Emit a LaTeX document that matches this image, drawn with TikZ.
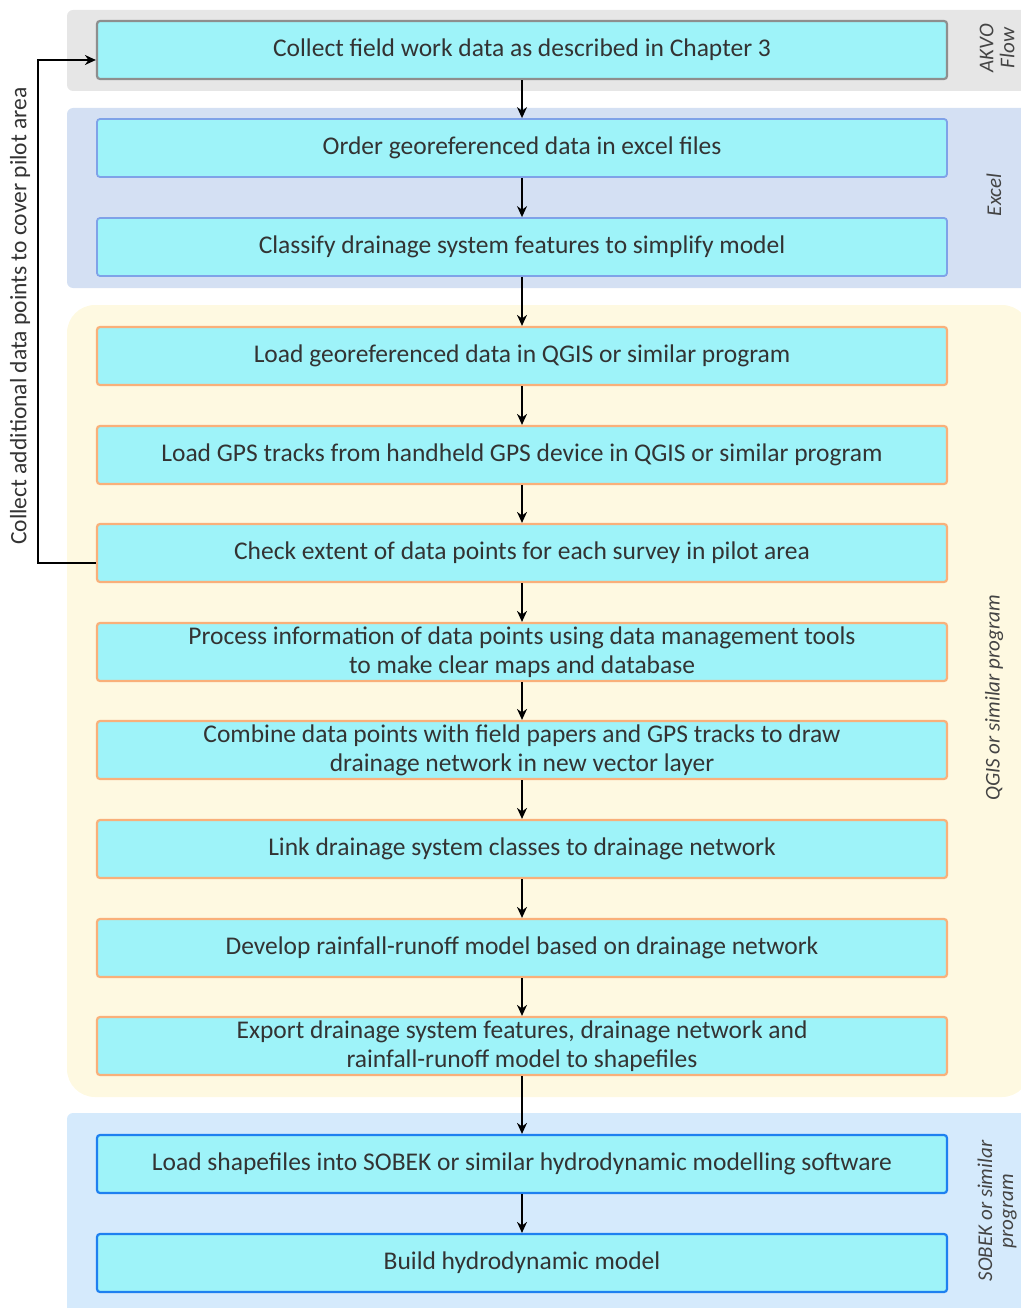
\documentclass[tikz,border=0pt]{standalone}
\usepackage{fontspec}
\setmainfont{Carlito}
\usetikzlibrary{arrows.meta,positioning}
\definecolor{boxfill}{HTML}{9EF3F9}
\definecolor{txt}{HTML}{333333}
\definecolor{bgakvo}{HTML}{E6E6E6}
\definecolor{bgexcel}{HTML}{D4E0F3}
\definecolor{bgqgis}{HTML}{FEF9E1}
\definecolor{bgsobek}{HTML}{D5EAFC}
\definecolor{bdgray}{HTML}{8E8E8E}
\definecolor{bdexcel}{HTML}{7FA2E8}
\definecolor{bdorange}{HTML}{F9B07A}
\definecolor{bdblue}{HTML}{1E80F0}
\definecolor{sidetxt}{HTML}{444444}
\begin{document}
\begin{tikzpicture}[x=1pt,y=-1pt,
  stepbox/.style={draw, fill=boxfill, minimum width=850pt, minimum height=58pt, rounded corners=3pt,
    line width=2.2pt, text=txt, font=\fontsize{25.5}{29}\selectfont, align=center, inner sep=0pt},
  gbox/.style={stepbox, draw=bdgray},
  ebox/.style={stepbox, draw=bdexcel, line width=1.8pt},
  obox/.style={stepbox, draw=bdorange},
  bbox/.style={stepbox, draw=bdblue},
  flow/.style={-{Stealth[length=11pt,width=10pt]}, line width=1.4pt, black},
  side/.style={rotate=90, font=\itshape\fontsize{21}{21}\selectfont, text=sidetxt, align=center}
]
\useasboundingbox (0,0) rectangle (1020,1308);
% bands
\fill[bgakvo, rounded corners=6pt] (67,10) rectangle (1030,91);
\fill[bgexcel, rounded corners=6pt] (67,108) rectangle (1030,288);
\fill[bgqgis, rounded corners=28pt] (67,305) rectangle (1030,1097);
\fill[bgsobek, rounded corners=6pt] (67,1113) rectangle (1030,1320);
% boxes
\node[gbox] (b1) at (522,50) {Collect field work data as described in Chapter 3};
\node[ebox] (b2) at (522,148) {Order georeferenced data in excel files};
\node[ebox] (b3) at (522,247) {Classify drainage system features to simplify model};
\node[obox] (b4) at (522,356) {Load georeferenced data in QGIS or similar program};
\node[obox] (b5) at (522,455) {Load GPS tracks from handheld GPS device in QGIS or similar program};
\node[obox] (b6) at (522,553) {Check extent of data points for each survey in pilot area};
\node[obox] (b7) at (522,652) {Process information of data points using data management tools\\to make clear maps and database};
\node[obox] (b8) at (522,750) {Combine data points with field papers and GPS tracks to draw\\drainage network in new vector layer};
\node[obox] (b9) at (522,849) {Link drainage system classes to drainage network};
\node[obox] (b10) at (522,948) {Develop rainfall-runoff model based on drainage network};
\node[obox] (b11) at (522,1046) {Export drainage system features, drainage network and\\rainfall-runoff model to shapefiles};
\node[bbox] (b12) at (522,1164) {Load shapefiles into SOBEK or similar hydrodynamic modelling software};
\node[bbox] (b13) at (522,1263) {Build hydrodynamic model};
% arrows
\foreach \a/\b in {b1/b2,b2/b3,b3/b4,b4/b5,b5/b6,b6/b7,b7/b8,b8/b9,b9/b10,b10/b11,b11/b12,b12/b13}
  \draw[flow] (\a.south) -- (\b.north);
% feedback
\coordinate (fb1) at (38,563);
\coordinate (fb2) at (38,60);
\draw[flow] (b6.west |- fb1) -- (fb1) -- (fb2) -- (b1.west |- fb2);
\node[rotate=90, text=txt, font=\fontsize{23.5}{25}\selectfont] (fbl) at (20,316) {Collect additional data points to cover pilot area};
% side labels
\node[side] (s1) at (997,48) {AKVO\\Flow};
\node[side] (s2) at (994,195) {Excel};
\node[side] (s3) at (994,698) {QGIS or similar program};
\node[side] (s4) at (997,1211) {SOBEK or similar\\program};
\end{tikzpicture}
\end{document}
